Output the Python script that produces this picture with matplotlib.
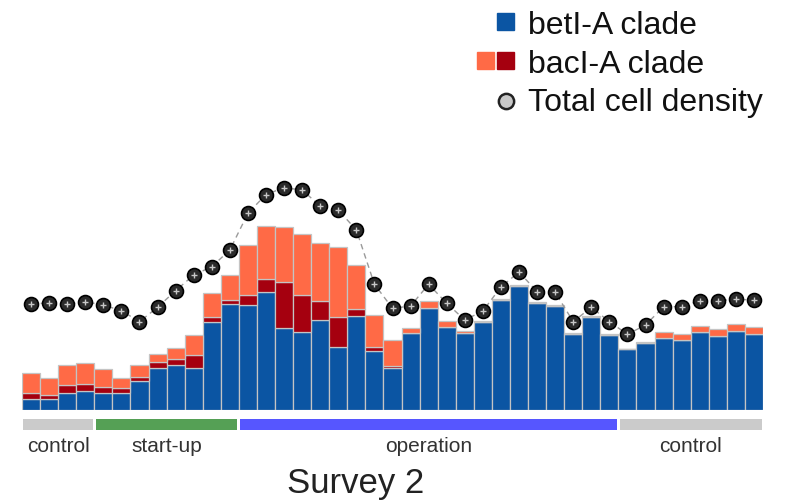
import matplotlib
matplotlib.use("Agg")
import matplotlib.pyplot as plt
from matplotlib.patches import Rectangle
from matplotlib.lines import Line2D
import numpy as np

plt.rcParams["font.family"] = ["Liberation Sans", "DejaVu Sans"]

# ── Survey 2 data (one value per sampling day) ───────────────────────────────
betI_A = [11.3, 10.7, 17.3, 19.3, 17.3, 17.3, 29.3, 41.7, 45.0, 41.7,
          88.3, 106.0, 105.0, 118.3, 81.7, 78.3, 90.0, 63.3, 94.3, 59.3,
          41.7, 76.7, 101.7, 83.3, 76.7, 88.3, 110.0, 124.0, 107.3, 104.0,
          75.7, 93.3, 75.0, 60.7, 67.3, 71.7, 70.0, 77.7, 74.3, 79.3, 76.0]
bacI_A_dark = [6.0, 4.3, 7.7, 6.4, 5.4, 4.4, 4.0, 6.0, 6.0, 13.3,
               5.0, 4.0, 10.0, 12.4, 46.6, 36.7, 19.3, 29.4, 6.4, 3.4,
               2.3, 0, 0, 0, 0, 0, 0, 0, 0, 0,
               0, 0, 0, 0, 0, 0, 0, 0, 0, 0, 0]
bacI_A_light = [19.4, 17.3, 20.0, 21.6, 18.3, 10.0, 11.7, 8.3, 10.7, 20.0,
                24.0, 25.0, 50.0, 53.3, 55.0, 60.7, 58.0, 70.6, 44.3, 32.3,
                26.0, 5.6, 7.6, 6.0, 2.6, 1.0, 1.5, 1.5, 1.0, 1.0,
                1.0, 1.0, 1.0, 0.5, 0.5, 6.6, 5.7, 6.3, 6.4, 6.7, 6.7]
cell_density = [105.7, 107.3, 105.7, 108.3, 105.0, 99.3, 88.3, 102.7, 119.3, 135.0,
                143.3, 160.0, 196.7, 215.5, 222.3, 220.0, 204.0, 200.0, 180.0, 125.7,
                101.7, 104.0, 125.7, 106.7, 90.0, 99.0, 123.0, 138.0, 118.3, 117.7,
                88.3, 102.7, 88.3, 75.7, 85.0, 103.3, 103.3, 109.3, 109.3, 110.7, 110.0]

phase_labels = ["control", "start-up", "operation", "control"]
phase_days = [4, 8, 21, 8]
phase_colors = ["#cbcbcb", "#55a055", "#5656ff", "#cbcbcb"]

# ── Colours ───────────────────────────────────────────────────────────────────
BLUE = "#0b55a3"
ORANGE = "#ff6a46"
DARKRED = "#a5000f"
EDGE = "#c4c4c4"

W, H = 789, 503
fig = plt.figure(figsize=(W / 100, H / 100), dpi=100)

# axes in pixel terms: bars from x=22 to 763, baseline at y=410
ax = fig.add_axes([22 / W, (H - 410) / H, 741 / W, 240 / H])
x = np.arange(len(betI_A))
blue = np.array(betI_A)
dark = np.array(bacI_A_dark)
light = np.array(bacI_A_light)

ax.bar(x, blue, width=1.0, color=BLUE, edgecolor=EDGE, linewidth=0.9)
ax.bar(x, dark, width=1.0, bottom=blue, color=DARKRED, edgecolor=EDGE, linewidth=0.9)
ax.bar(x, light, width=1.0, bottom=blue + dark, color=ORANGE, edgecolor=EDGE, linewidth=0.9)
ax.set_xlim(-0.5, len(x) - 0.5)
ax.set_ylim(0, 240)
ax.axis("off")

# total cell density on its own axis
ax2 = ax.twinx()
ax2.set_ylim(0, 240)
ax2.axis("off")
ax2.plot(x, cell_density, ls=(0, (4, 3)), color="#9a9a9a", lw=1.0, zorder=3)
ax2.plot(x, cell_density, ls="none", marker="o", ms=10, mfc="#2a2a2a",
         mec="#000000", mew=1.2, zorder=4, clip_on=False)
ax2.plot(x, cell_density, ls="none", marker="+", ms=5, mec="#c8c8c8",
         mew=1.0, zorder=5, clip_on=False)

# phase strips and labels under the bars
start = -0.5
for label, n, col in zip(phase_labels, phase_days, phase_colors):
    ax.add_patch(Rectangle((start + 0.08, -19.5), n - 0.16, 11, color=col,
                           clip_on=False, lw=0))
    ax.text(start + n / 2, -36, label, ha="center", va="center",
            fontsize=15, color="#333333", clip_on=False)
    start += n

fig.text(356 / W, 1 - 493 / H, "Survey 2", ha="center", va="baseline",
         fontsize=25, color="#222222")

# legend, drawn by hand so the two bacI-A squares sit side by side
def fy(py):
    return 1 - py / H

sq = 17
fig.add_artist(Rectangle((497 / W, fy(30)), sq / W, sq / H, color=BLUE,
                         transform=fig.transFigure))
fig.add_artist(Rectangle((477 / W, fy(69)), sq / W, sq / H, color=ORANGE,
                         transform=fig.transFigure))
fig.add_artist(Rectangle((497 / W, fy(69)), sq / W, sq / H, color=DARKRED,
                         transform=fig.transFigure))
fig.add_artist(Line2D([505.5 / W], [fy(101)], marker="o", ms=11, mfc="#c8c8c8",
                      mec="#222222", mew=1.8, transform=fig.transFigure))

legend_text = ["betI-A clade", "bacI-A clade", "Total cell density"]
for txt, base in zip(legend_text, [34, 73, 111]):
    fig.text(528 / W, fy(base), txt, ha="left", va="baseline",
             fontsize=23, color="#111111")

fig.savefig("out.png", dpi=100)
